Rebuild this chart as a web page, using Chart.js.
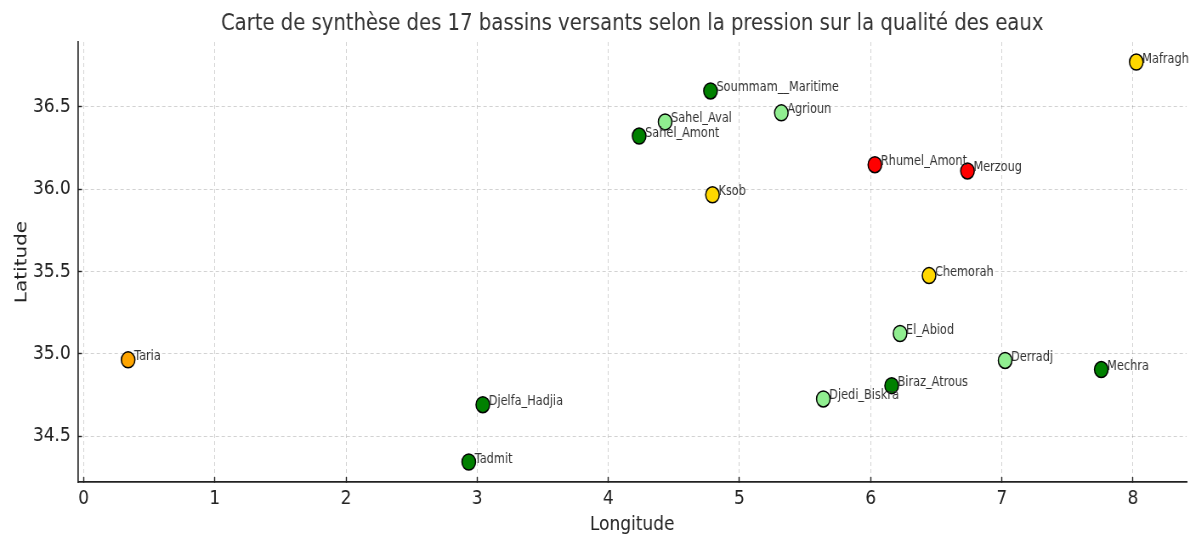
<!DOCTYPE html>
<html lang="fr">
<head>
<meta charset="utf-8">
<title>Bassins versants</title>
<script src="https://cdn.jsdelivr.net/npm/chart.js@4.4.1/dist/chart.umd.min.js"></script>
<style>
  html, body { margin: 0; padding: 0; background: #fff; overflow: hidden; }
  /* the figure is drawn wide and squeezed horizontally */
  #wrap { width: 1406px; height: 537px; transform: scaleX(0.85); transform-origin: 0 0; }
</style>
</head>
<body>
<div id="wrap"><canvas id="carte" width="1406" height="537"></canvas></div>
<script>
const bassins = [
  'Mafragh', 'Soummam__Maritime', 'Agrioun', 'Sahel_Aval', 'Sahel_Amont',
  'Rhumel_Amont', 'Merzoug', 'Ksob', 'Chemorah', 'El_Abiod', 'Derradj',
  'Mechra', 'Taria', 'Biraz_Atrous', 'Djedi_Biskra', 'Djelfa_Hadjia', 'Tadmit'
];
const longitudes = [
  8.025, 4.779, 5.319, 4.433, 4.235,
  6.032, 6.738, 4.794, 6.445, 6.224, 7.025,
  7.758, 0.339, 6.160, 5.639, 3.043, 2.936
];
const latitudes = [
  36.773, 36.597, 36.464, 36.409, 36.323,
  36.149, 36.111, 35.966, 35.475, 35.123, 34.959,
  34.904, 34.963, 34.806, 34.725, 34.690, 34.342
];
// pression sur la qualité des eaux, 1 = faible ... 5 = très forte
const pressions = [
  3, 1, 2, 2, 1,
  5, 5, 3, 3, 2, 2,
  1, 4, 1, 2, 1, 1
];
const couleursPression = { 1: 'green', 2: 'lightgreen', 3: 'gold', 4: 'orange', 5: 'red' };

const xTicks = [0, 1, 2, 3, 4, 5, 6, 7, 8];
const yTicks = [34.5, 35.0, 35.5, 36.0, 36.5];

const FONT = "'DejaVu Sans', sans-serif";

// 5% margin around the data, like the usual auto limits
function limits(vals) {
  const lo = Math.min(...vals), hi = Math.max(...vals);
  const m = (hi - lo) * 0.05;
  return [lo - m, hi + m];
}
const [xMin, xMax] = limits(longitudes);
const [yMin, yMax] = limits(latitudes);

const points = longitudes.map((x, i) => ({ x: x, y: latitudes[i] }));

// basin names written next to each marker
const nomsPlugin = {
  id: 'noms',
  afterDatasetsDraw(chart) {
    const ctx = chart.ctx;
    const xs = chart.scales.x, ys = chart.scales.y;
    ctx.save();
    ctx.font = "13.3px " + FONT;
    ctx.fillStyle = '#333';
    ctx.textAlign = 'left';
    ctx.textBaseline = 'alphabetic';
    bassins.forEach((nom, i) => {
      const px = xs.getPixelForValue(longitudes[i]);
      const py = ys.getPixelForValue(latitudes[i]);
      ctx.fillText(nom, px + 7, py + 0.5);
    });
    ctx.restore();
  }
};

const ctx = document.getElementById('carte');
new Chart(ctx, {
  type: 'scatter',
  data: {
    datasets: [{
      data: points,
      backgroundColor: pressions.map(p => couleursPression[p]),
      borderColor: '#000',
      borderWidth: 1.5,
      pointRadius: 8,
      pointHoverRadius: 8
    }]
  },
  options: {
    responsive: false,
    animation: false,
    layout: { padding: { left: 0, right: 9.9, top: 0, bottom: 0 } },
    plugins: {
      legend: { display: false },
      tooltip: { enabled: false },
      title: {
        display: true,
        fullSize: false,
        text: 'Carte de synthèse des 17 bassins versants selon la pression sur la qualité des eaux',
        color: '#333',
        font: { family: FONT, size: 23.1, weight: 'normal' },
        padding: { top: 10.5, bottom: 3.8 }
      }
    },
    scales: {
      x: {
        type: 'linear',
        min: xMin,
        max: xMax,
        afterBuildTicks: s => { s.ticks = xTicks.map(v => ({ value: v })); },
        afterFit: s => { s.height = 55; },
        ticks: {
          color: '#222',
          font: { family: FONT, size: 20 },
          padding: 10,
          callback: v => String(v)
        },
        grid: {
          color: 'rgba(0,0,0,0.2)',
          lineWidth: 0.9,
          tickLength: -5,
          tickColor: '#222',
          tickWidth: 1.4
        },
        border: { display: true, color: '#222', width: 1.7, dash: [4, 3] },
        title: {
          display: true,
          text: 'Longitude',
          color: '#222',
          font: { family: FONT, size: 20 },
          padding: { top: 0, bottom: 0 }
        }
      },
      y: {
        type: 'linear',
        min: yMin,
        max: yMax,
        afterBuildTicks: s => { s.ticks = yTicks.map(v => ({ value: v })); },
        afterFit: s => { s.width = 91.4; },
        ticks: {
          color: '#222',
          font: { family: FONT, size: 20 },
          padding: 13.2,
          callback: v => v.toFixed(1)
        },
        grid: {
          color: 'rgba(0,0,0,0.2)',
          lineWidth: 0.9,
          tickLength: -5,
          tickColor: '#222',
          tickWidth: 1.4
        },
        border: { display: true, color: '#222', width: 1.7, dash: [4, 3] },
        title: {
          display: true,
          text: 'Latitude',
          color: '#222',
          font: { family: FONT, size: 20 },
          padding: { top: 13.8, bottom: 0 }
        }
      }
    }
  },
  plugins: [nomsPlugin]
});
</script>
</body>
</html>
